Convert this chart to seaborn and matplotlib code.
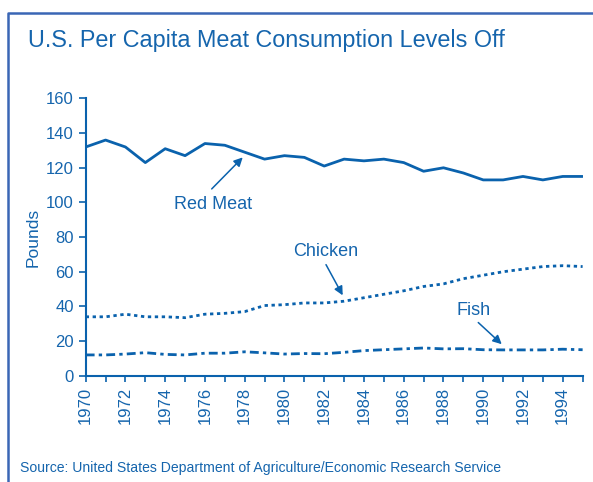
import numpy as np
import pandas as pd
import matplotlib
matplotlib.use("Agg")
import matplotlib.pyplot as plt
from matplotlib.lines import Line2D
from matplotlib.ticker import MultipleLocator
import seaborn as sns

# per capita consumption, pounds
years = list(range(1970, 1996))
red_meat = [132, 136, 132, 123, 131, 127, 134, 133, 129, 125, 127, 126, 121,
            125, 124, 125, 123, 118, 120, 117, 113, 113, 115, 113, 115, 115]
chicken = [34, 34, 35.5, 34, 34, 33.5, 35.5, 36, 37, 40.5, 41, 42, 42,
           43, 45, 47, 49, 51.5, 53, 56, 58, 60, 61.5, 63, 63.5, 63]
fish = [12, 12, 12.5, 13.3, 12.3, 12, 13, 13, 13.8, 13.2, 12.5, 12.8, 12.7,
        13.5, 14.5, 15, 15.5, 16, 15.5, 15.6, 15, 14.9, 14.9, 14.9, 15.3, 15]

df = pd.DataFrame({"Year": years, "Red Meat": red_meat,
                   "Chicken": chicken, "Fish": fish})

line_col = "#0a62ad"
text_col = "#1565ad"
frame_col = "#3a66b5"

sns.set_style("white")
plt.rcParams["font.family"] = ["Liberation Sans", "DejaVu Sans"]

fig = plt.figure(figsize=(5.93, 4.82), dpi=100)
ax = fig.add_axes([0.1445, 0.2205, 0.838, 0.5752])

sns.lineplot(data=df, x="Year", y="Red Meat", ax=ax, color=line_col, lw=2.0)
sns.lineplot(data=df, x="Year", y="Chicken", ax=ax, color=line_col, lw=2.0)
sns.lineplot(data=df, x="Year", y="Fish", ax=ax, color=line_col, lw=2.0)
lines = ax.get_lines()
lines[1].set_dashes((1.2, 1.3))
lines[2].set_dashes((3.2, 1.5, 1.2, 1.5))

ax.set_xlim(1970, 1995)
ax.set_ylim(0, 160)
ax.xaxis.set_major_locator(MultipleLocator(2))
ax.xaxis.set_minor_locator(MultipleLocator(1))
ax.yaxis.set_major_locator(MultipleLocator(20))
ax.tick_params(axis="x", which="both", direction="out", length=4, width=1.2,
               color=line_col, labelcolor=text_col, labelsize=12,
               labelrotation=90, bottom=True, pad=4)
ax.tick_params(axis="y", direction="out", length=5, width=1.2,
               color=line_col, labelcolor=text_col, labelsize=12, left=True)
for s in ["top", "right"]:
    ax.spines[s].set_visible(False)
for s in ["left", "bottom"]:
    ax.spines[s].set_color(line_col)
    ax.spines[s].set_linewidth(1.5)
ax.set_xlabel("")
ax.set_ylabel("Pounds", color=text_col, fontsize=12.5, labelpad=4)

# labels with arrows
arrow = dict(arrowstyle="-|>", color=line_col, lw=1.1, mutation_scale=13,
             shrinkA=0, shrinkB=0)
notes = [("Red Meat", (1976.4, 98.7), (1976.34, 107.8), (1977.9, 126.0)),
         ("Chicken", (1982.05, 71.6), (1982.09, 64.1), (1982.93, 46.4)),
         ("Fish", (1989.5, 37.8), (1989.75, 30.7), (1990.93, 18.2))]
for label, pos, tail, head in notes:
    ax.text(pos[0], pos[1], label, color=text_col, fontsize=13,
            ha="center", va="center")
    ax.annotate("", xy=head, xytext=tail, arrowprops=arrow)

fig.text(266 / 593, 1 - 41 / 482, "U.S. Per Capita Meat Consumption Levels Off",
         color=text_col, fontsize=16.8, ha="center", va="center")
fig.text(20 / 593, 1 - 468 / 482,
         "Source: United States Department of Agriculture/Economic Research Service",
         color=text_col, fontsize=10.1, ha="left", va="center")

# open frame: left and top rules
fig.add_artist(Line2D([7.5 / 593, 7.5 / 593, 1.0], [0.0, 1 - 12.5 / 482, 1 - 12.5 / 482],
                      transform=fig.transFigure, color=frame_col, lw=1.8))

fig.savefig("out.png", dpi=100)
